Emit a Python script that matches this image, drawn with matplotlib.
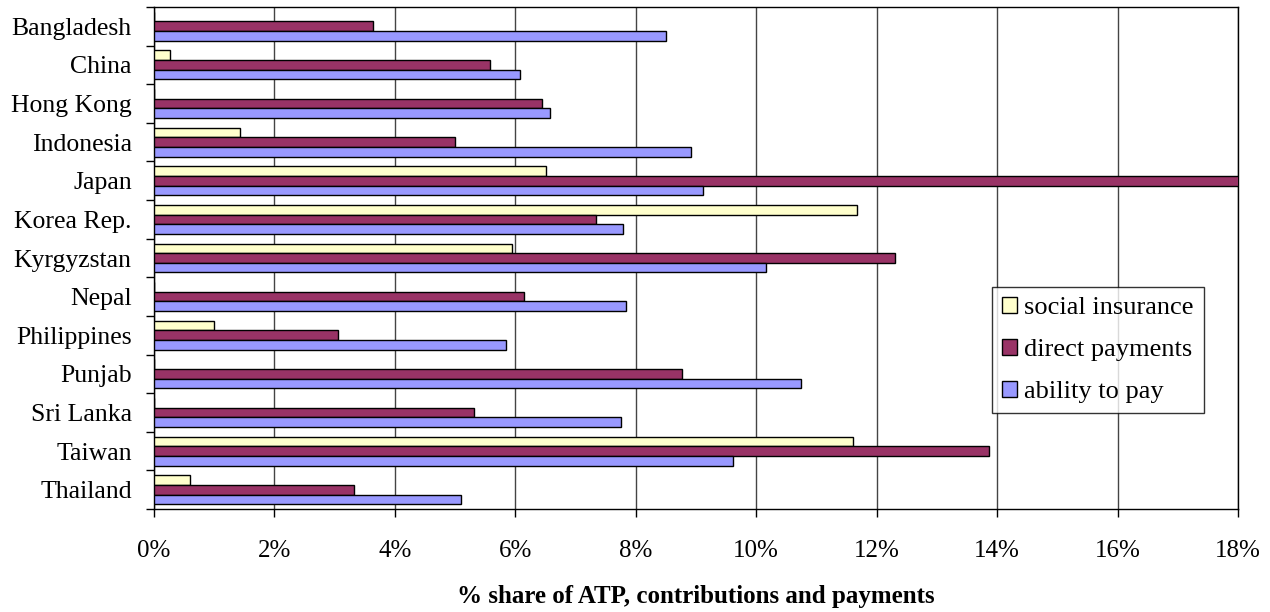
import matplotlib
matplotlib.use("Agg")
import matplotlib.pyplot as plt
import numpy as np

plt.rcParams['font.family'] = ['Liberation Serif', 'DejaVu Serif']

countries = ["Bangladesh", "China", "Hong Kong", "Indonesia", "Japan", "Korea Rep.",
             "Kyrgyzstan", "Nepal", "Philippines", "Punjab", "Sri Lanka", "Taiwan", "Thailand"]

# shares in percent
social_insurance = [0.0, 0.27, 0.0, 1.43, 6.51, 11.67, 5.95, 0.0, 1.00, 0.0, 0.0, 11.60, 0.60]
direct_payments = [3.63, 5.58, 6.45, 4.99, 18.4, 7.34, 12.30, 6.15, 3.06, 8.77, 5.32, 13.86, 3.32]
ability_to_pay = [8.51, 6.08, 6.58, 8.91, 9.11, 7.78, 10.17, 7.84, 5.85, 10.74, 7.75, 9.61, 5.09]

series_names = ["social insurance", "direct payments", "ability to pay"]
series_colors = ["#FFFFCC", "#993366", "#9999FF"]

xticks = list(range(0, 20, 2))
xtick_labels = [f"{t}%" for t in xticks]

W, H = 1270, 612
fig = plt.figure(figsize=(W / 100, H / 100), dpi=100)
ax = fig.add_axes([154 / W, 1 - 509 / H, (1238 - 154) / W, (509 - 7) / H])

n = len(countries)
centers = np.arange(n) + 0.5
bar_h = 0.25
offsets = [-0.25, 0.0, 0.25]
for vals, name, col, off in zip([social_insurance, direct_payments, ability_to_pay],
                                series_names, series_colors, offsets):
    ax.barh(centers + off, vals, height=bar_h, color=col, edgecolor="black",
            linewidth=1.0, label=name, zorder=3)

ax.set_xlim(0, 18)
ax.set_ylim(n, 0)

ax.set_xticks(xticks)
ax.set_xticklabels(xtick_labels, fontsize=18)
ax.tick_params(axis="x", direction="out", length=6, width=1, pad=16)

ax.set_yticks(centers)
ax.set_yticklabels(countries, fontsize=18.5)
ax.tick_params(axis="y", which="major", length=0, pad=16)
ax.set_yticks(np.arange(n + 1), minor=True)
ax.tick_params(axis="y", which="minor", direction="out", length=6, width=1)

ax.grid(axis="x", color="#444444", linewidth=1.0, zorder=0)
ax.set_axisbelow(True)
for s in ax.spines.values():
    s.set_color("black")
    s.set_linewidth(1.0)

ax.set_xlabel("% share of ATP, contributions and payments", fontsize=18,
              fontweight="bold", va="center")
ax.xaxis.set_label_coords(0.5, (509 - 597) / 502)

leg = ax.legend(loc="upper left", bbox_to_anchor=(992 / W, 1 - 287 / H),
                bbox_transform=fig.transFigure, borderaxespad=0, fontsize=19,
                frameon=True, fancybox=False, edgecolor="black",
                handlelength=0.57, handleheight=0.57, handletextpad=0.27,
                borderpad=0.38, labelspacing=0.74)
leg.get_frame().set_linewidth(1.0)

fig.savefig("out.png", dpi=100)
